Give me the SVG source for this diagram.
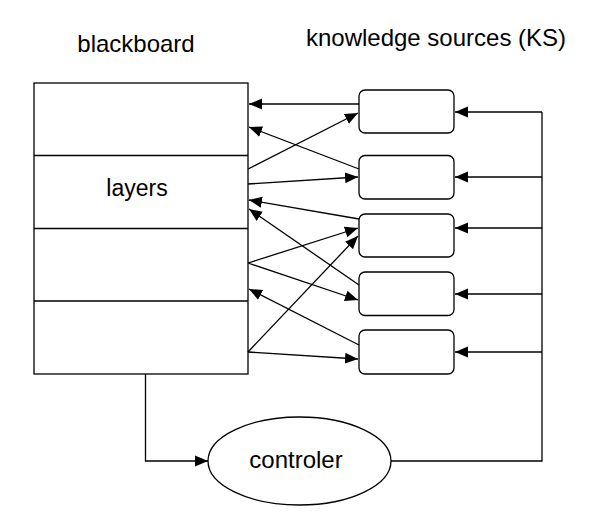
<svg xmlns="http://www.w3.org/2000/svg" width="600" height="522" viewBox="0 0 600 522">
<style>
text{font-family:"Liberation Sans",Arial,sans-serif;fill:#000;font-size:24px}
.s{fill:#fff;stroke:#000;stroke-width:1.3}
.c{fill:none;stroke:#000;stroke-width:1.3}
</style>
<defs>
<marker id="a" markerUnits="userSpaceOnUse" markerWidth="14" markerHeight="12" refX="13" refY="6" orient="auto">
<path d="M0,0.5 L13,6 L0,11.5 z" fill="#000"/>
</marker>
</defs>
<rect width="600" height="522" fill="#fff"/>
<text x="136" y="52" text-anchor="middle">blackboard</text>
<text x="436" y="46" text-anchor="middle">knowledge sources (KS)</text>
<g id="blackboard">
<rect class="s" x="34" y="83" width="214" height="291"/>
<line class="c" x1="34" y1="155.5" x2="248" y2="155.5"/>
<line class="c" x1="34" y1="228.5" x2="248" y2="228.5"/>
<line class="c" x1="34" y1="301" x2="248" y2="301"/>
<text x="137" y="196" text-anchor="middle" style="font-size:23px">layers</text>
</g>
<g id="ks1"><rect class="s" x="359" y="90" width="95" height="43" rx="6"/></g>
<g id="ks2"><rect class="s" x="359" y="155.5" width="95" height="43.5" rx="6"/></g>
<g id="ks3"><rect class="s" x="359" y="214" width="95" height="43" rx="6"/></g>
<g id="ks4"><rect class="s" x="359" y="272" width="95" height="43.5" rx="6"/></g>
<g id="ks5"><rect class="s" x="359" y="330" width="95" height="44" rx="6"/></g>
<g id="controler">
<ellipse class="s" cx="299.5" cy="461" rx="91.5" ry="44"/>
<text x="296" y="468" text-anchor="middle">controler</text>
</g>
<g id="connectors" class="c">
<line x1="359" y1="104" x2="249" y2="104" marker-end="url(#a)"/>
<line x1="248" y1="169" x2="358" y2="113" marker-end="url(#a)"/>
<line x1="359" y1="169" x2="249" y2="127" marker-end="url(#a)"/>
<line x1="248" y1="184" x2="358" y2="177" marker-end="url(#a)"/>
<line x1="359" y1="219" x2="249" y2="200" marker-end="url(#a)"/>
<line x1="359" y1="285" x2="249" y2="209" marker-end="url(#a)"/>
<line x1="248" y1="263" x2="358" y2="228" marker-end="url(#a)"/>
<line x1="248" y1="263" x2="358" y2="300" marker-end="url(#a)"/>
<line x1="248" y1="352" x2="358" y2="236" marker-end="url(#a)"/>
<line x1="359" y1="345" x2="249" y2="289" marker-end="url(#a)"/>
<line x1="248" y1="352" x2="358" y2="359" marker-end="url(#a)"/>
<polyline points="391,461 542,461 542,112"/>
<line x1="542" y1="112" x2="455" y2="112" marker-end="url(#a)"/>
<line x1="542" y1="177" x2="455" y2="177" marker-end="url(#a)"/>
<line x1="542" y1="228" x2="455" y2="228" marker-end="url(#a)"/>
<line x1="542" y1="294" x2="455" y2="294" marker-end="url(#a)"/>
<line x1="542" y1="352" x2="455" y2="352" marker-end="url(#a)"/>
<polyline points="145.5,374 145.5,461 208,461" marker-end="url(#a)"/>
</g>
</svg>
